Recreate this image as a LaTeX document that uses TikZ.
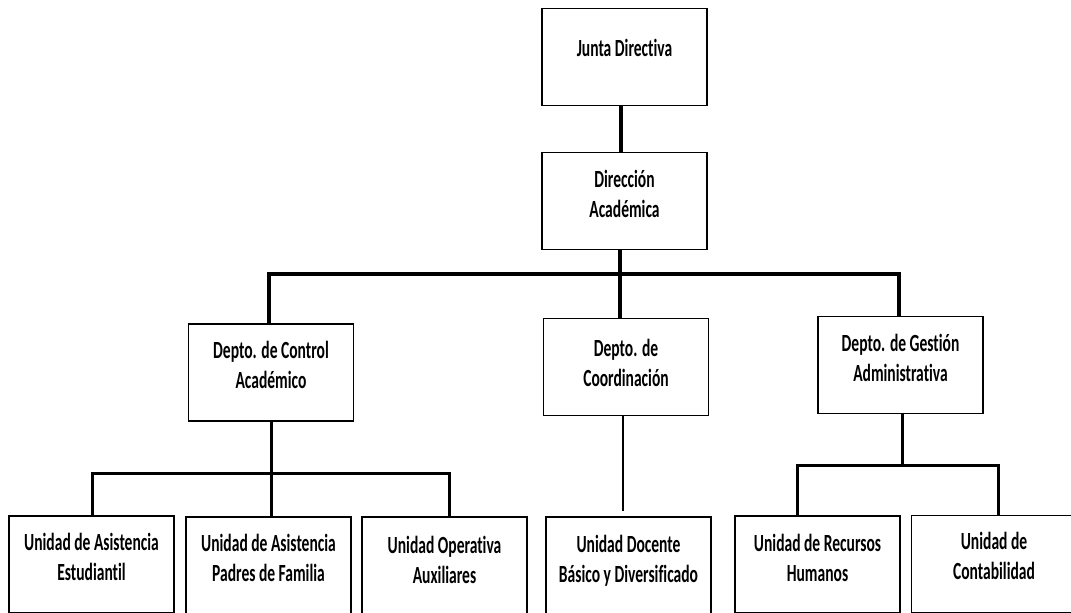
\documentclass[tikz,border=0pt]{standalone}
\usepackage{fontspec}
\setmainfont{Carlito}[FakeStretch=0.63, Ligatures=NoCommon]
\begin{document}
\begin{tikzpicture}[x=0.75pt,y=-0.75pt,
  box/.style={draw=black, line width=1.1pt, minimum width=123.75pt, minimum height=72.75pt, inner sep=0pt},
  lbl/.style={align=center, font=\fontsize{18.5pt}{22.5pt}\selectfont\bfseries, text=black, inner sep=0pt},
  heavy/.style={line width=3pt},
  mid/.style={line width=2.25pt},
  thin/.style={line width=1.5pt}]
\useasboundingbox (0,0) rectangle (1071,613);
% boxes
\node[box] (junta) at (624.5,57) {};
\node[box] (dir) at (624.5,201) {};
\node[box] (ctrl) at (271,372.5) {};
\node[box] (coord) at (626,367) {};
\node[box] (gest) at (900.5,365) {};
\node[box] (u1) at (91.5,564.5) {};
\node[box] (u2) at (268.5,565.5) {};
\node[box] (u3) at (444.5,565.5) {};
\node[box] (u4) at (628.5,565.5) {};
\node[box] (u5) at (817.5,564.5) {};
\node[box] (u6) at (994,564) {};
% labels
\node[lbl] (tjunta) at (624.5,48) {Junta Directiva};
\node[lbl] (tdir) at (624.5,194) {Dirección\\Académica};
\node[lbl] (tctrl) at (271,365) {Depto. de Control\\Académico};
\node[lbl] (tcoord) at (626,363) {Depto. de\\Coordinación};
\node[lbl] (tgest) at (900.5,358) {Depto. de Gestión\\Administrativa};
\node[lbl] (tu1) at (91.5,557) {Unidad de Asistencia\\Estudiantil};
\node[lbl] (tu2) at (268.5,558) {Unidad de Asistencia\\Padres de Familia};
\node[lbl] (tu3) at (444.5,560) {Unidad Operativa\\Auxiliares};
\node[lbl] (tu4) at (628.5,561) {Unidad Docente\\Básico y Diversificado};
\node[lbl] (tu5) at (817.5,558) {Unidad de Recursos\\Humanos};
\node[lbl] (tu6) at (994,556) {Unidad de\\Contabilidad};
% connector coordinates
\coordinate (busA) at (620,274);
\coordinate (busB) at (271,473);
\coordinate (busC) at (902,465);
\coordinate (xj) at (621,0);
\coordinate (xa) at (620,0);
\coordinate (xl) at (269,0);
\coordinate (xr) at (899,0);
\coordinate (xb1) at (92,0);
\coordinate (xb3) at (449,0);
\coordinate (xd) at (623,0);
\coordinate (xc1) at (797,0);
\coordinate (xc2) at (998,0);
% connectors
\draw[heavy] (junta.south -| xj) -- (dir.north -| xj);
\draw[heavy] (dir.south -| xa) -- (busA) -- (coord.north -| xa);
\draw[heavy] (ctrl.north -| xl) |- (busA) -| (gest.north -| xr);
\draw[mid] (ctrl.south -| busB) -- (busB) -- (u2.north -| busB);
\draw[mid] (u1.north -| xb1) |- (busB) -| (u3.north -| xb3);
\draw[thin, shorten >=3.75pt] (coord.south -| xd) -- (u4.north -| xd);
\draw[mid] (gest.south -| busC) -- (busC);
\draw[mid] (u5.north -| xc1) |- (busC) -| (u6.north -| xc2);
\end{tikzpicture}
\end{document}
